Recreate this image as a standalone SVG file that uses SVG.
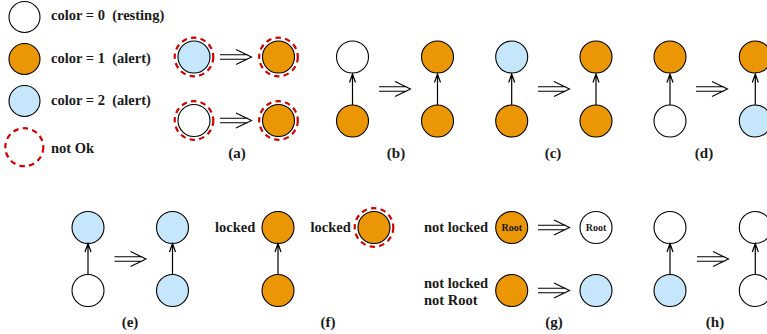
<svg xmlns="http://www.w3.org/2000/svg" width="767" height="334" viewBox="0 0 767 334" font-family="'Liberation Serif', 'Times New Roman', Times, serif" font-weight="bold">
<style>
text{font-family:'Liberation Serif','Times New Roman',Times,serif;font-weight:700;fill:#1a1a1a}
.t{font-size:14.5px}
.lab{font-size:15px;text-anchor:middle}
.root{font-size:10px;text-anchor:middle}
.n{stroke:#000;stroke-width:1.1}
.w{fill:#fff}
.o{fill:#eb9605}
.b{fill:#c6e6fb}
.ring{fill:none;stroke:#d40000;stroke-width:2.2;stroke-dasharray:5.5 4.2}
.e{fill:none;stroke:#000;stroke-width:1.2}
.da{fill:none;stroke:#000;stroke-width:1.1}
</style>
<defs>
<g id="dbl"><path class="da" d="M0,-2.2H28M0,2.2H28M16,-7.5L31.5,0L16,7.5"/></g>
<g id="up"><path class="e" d="M0,0V-31M-3,-22.5L0,-31L3,-22.5"/></g>
</defs>
<g id="legend">
<g id="leg0"><circle class="n w" cx="24.5" cy="17" r="15.5"/><text class="t" x="51" y="20" xml:space="preserve">color = 0  (resting)</text></g>
<g id="leg1"><circle class="n o" cx="24.5" cy="59" r="15.5"/><text class="t" x="51" y="63" xml:space="preserve">color = 1  (alert)</text></g>
<g id="leg2"><circle class="n b" cx="24.5" cy="101" r="15.5"/><text class="t" x="51" y="105" xml:space="preserve">color = 2  (alert)</text></g>
<g id="leg3"><circle class="ring" cx="24.3" cy="147.2" r="19"/><text class="t" x="51" y="153">not Ok</text></g>
</g>
<g id="nodes">
<g id="a"><circle class="n b" cx="194" cy="57" r="16"/><circle class="ring" cx="194" cy="57" r="19.3"/>
<circle class="n o" cx="278.5" cy="57" r="16"/><circle class="ring" cx="278.5" cy="57" r="19.3"/>
<circle class="n w" cx="194" cy="120.5" r="16"/><circle class="ring" cx="194" cy="120.5" r="19.3"/>
<circle class="n o" cx="278.5" cy="120.5" r="16"/><circle class="ring" cx="278.5" cy="120.5" r="19.3"/>
<text class="lab" x="237" y="158">(a)</text></g>
<g id="b"><circle class="n w" cx="352.5" cy="57" r="16"/><circle class="n o" cx="352.5" cy="121" r="16"/>
<circle class="n o" cx="437.5" cy="57" r="16"/><circle class="n o" cx="437.5" cy="121" r="16"/>
<text class="lab" x="396" y="158">(b)</text></g>
<g id="c"><circle class="n b" cx="511.7" cy="57" r="16"/><circle class="n o" cx="511.7" cy="121" r="16"/>
<circle class="n o" cx="596" cy="57" r="16"/><circle class="n o" cx="596" cy="121" r="16"/>
<text class="lab" x="553" y="158">(c)</text></g>
<g id="d"><circle class="n o" cx="670" cy="57" r="16"/><circle class="n w" cx="670" cy="121" r="16"/>
<circle class="n o" cx="755.3" cy="57" r="16"/><circle class="n b" cx="755.3" cy="121" r="16"/>
<text class="lab" x="704" y="158">(d)</text></g>
<g id="e"><circle class="n b" cx="88" cy="227.5" r="16"/><circle class="n w" cx="88" cy="290.5" r="16"/>
<circle class="n b" cx="172.5" cy="227.5" r="16"/><circle class="n b" cx="172.5" cy="290.5" r="16"/>
<text class="lab" x="130" y="327">(e)</text></g>
<g id="f"><text class="t" x="215" y="232">locked</text><circle class="n o" cx="278" cy="227.5" r="16"/><circle class="n o" cx="278" cy="290.5" r="16"/>
<text class="t" x="310.5" y="232">locked</text><circle class="n o" cx="374" cy="227.5" r="16"/><circle class="ring" cx="374" cy="227.5" r="19.3"/>
<text class="lab" x="328" y="327">(f)</text></g>
<g id="g"><text class="t" x="424" y="232">not locked</text>
<circle class="n o" cx="511.7" cy="227.5" r="16"/><text class="root" x="511.7" y="231">Root</text>
<circle class="n w" cx="596" cy="227.5" r="16"/><text class="root" x="596" y="231">Root</text>
<text class="t" x="424" y="288">not locked</text><text class="t" x="424" y="305">not Root</text>
<circle class="n o" cx="511.7" cy="290.5" r="16"/><circle class="n b" cx="596" cy="290.5" r="16"/>
<text class="lab" x="554" y="327">(g)</text></g>
<g id="h"><circle class="n w" cx="670" cy="227.5" r="16"/><circle class="n b" cx="670" cy="290.5" r="16"/>
<circle class="n w" cx="755.3" cy="227.5" r="16"/><circle class="n w" cx="755.3" cy="290.5" r="16"/>
<text class="lab" x="715" y="327">(h)</text></g>
</g>
<g id="connectors">
<use href="#up" x="352.5" y="105"/><use href="#up" x="437.5" y="105"/>
<use href="#up" x="511.7" y="105"/><use href="#up" x="596" y="105"/>
<use href="#up" x="670" y="105"/><use href="#up" x="755.3" y="105"/>
<use href="#up" x="88" y="274.5"/><use href="#up" x="172.5" y="274.5"/>
<use href="#up" x="278" y="274.5"/>
<use href="#up" x="670" y="274.5"/><use href="#up" x="755.3" y="274.5"/>
<use href="#dbl" x="220" y="57"/><use href="#dbl" x="220" y="120.5"/>
<use href="#dbl" x="379" y="89"/><use href="#dbl" x="538" y="89"/><use href="#dbl" x="696" y="89"/>
<use href="#dbl" x="114.5" y="259"/>
<use href="#dbl" x="538" y="227.5"/><use href="#dbl" x="538" y="290.5"/>
<use href="#dbl" x="697" y="259"/>
</g>
</svg>
